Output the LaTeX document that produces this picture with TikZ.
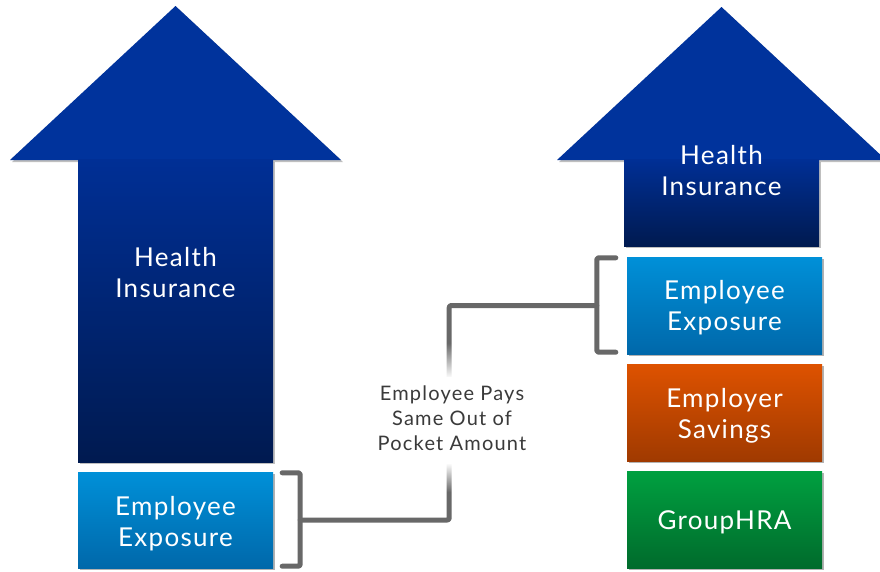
\documentclass[tikz,border=0pt]{standalone}
\usepackage{fontspec}
\setmainfont{Lato}
\newfontfamily\widefont[LetterSpace=5]{Lato}
\newfontfamily\notefont[LetterSpace=6]{Lato}
\usetikzlibrary{shadows,fadings,calc}
\definecolor{headblue}{HTML}{00339C}
\definecolor{shafttop}{HTML}{002F95}
\definecolor{shaftbot}{HTML}{001A50}
\definecolor{ltop}{HTML}{0090D8}
\definecolor{lbot}{HTML}{0068AA}
\definecolor{otop}{HTML}{DE5200}
\definecolor{obot}{HTML}{A03A00}
\definecolor{gtop}{HTML}{00A040}
\definecolor{gbot}{HTML}{006B2C}
\definecolor{brk}{HTML}{686868}
\definecolor{midtext}{HTML}{3A3A3A}
\tikzfading[name=fadein, top color=transparent!100, bottom color=transparent!0]
\tikzfading[name=fadeout, top color=transparent!0, bottom color=transparent!100]
\begin{document}
\begin{tikzpicture}[x=1pt,y=-1pt,
  box/.style={rectangle, minimum width=195pt, minimum height=96pt, inner sep=0pt,
    drop shadow={shadow xshift=2pt, shadow yshift=-2pt, opacity=0.3, fill=black}},
  lbox/.style={box, top color=ltop, bottom color=lbot},
  obox/.style={box, top color=otop, bottom color=obot},
  gbox/.style={box, top color=gtop, bottom color=gbot},
  label/.style={text=white, font=\widefont\fontsize{26}{31}\selectfont, align=center, inner sep=0pt},
  conn/.style={draw=brk, line width=5pt, line join=round, line cap=round, rounded corners=2pt},
  note/.style={text=midtext, font=\notefont\fontsize{20}{25}\selectfont, align=center, inner sep=0pt}
]
\useasboundingbox (0,0) rectangle (880,571);
\fill[white] (0,0) rectangle (880,571);

% left arrow
\fill[black, opacity=0.25] (12,162) -- (177.5,8) -- (343,162) -- cycle;
\fill[black, opacity=0.25] (80,162) rectangle (275,464);
\fill[headblue] (10,160) -- (175.5,6) -- (341,160) -- cycle;
\shade[top color=shafttop, bottom color=shaftbot] (78,159.5) rectangle (273,462);
\node[label] (lhi) at (175.5,273) {Health\\Insurance};

% right arrow
\fill[black, opacity=0.25] (559,162) -- (723.5,9) -- (888,162) -- cycle;
\fill[black, opacity=0.25] (626,162) rectangle (821,248);
\fill[headblue] (557,160) -- (721.5,7) -- (886,160) -- cycle;
\shade[top color=shafttop, bottom color=shaftbot] (624,159.5) rectangle (819,246);
\node[label] (rhi) at (721.5,171) {Health\\Insurance};

% boxes
\node[lbox] (lee) at (175.5,520) {};
\node[lbox, minimum height=97pt] (ree) at (724.5,305.5) {};
\node[obox, minimum height=97pt] (res) at (724.5,412.5) {};
\node[gbox, minimum height=97pt] (rhra) at (724.5,519.5) {};
\node[label] (leet) at ([yshift=-3.5pt]lee.center) {Employee\\Exposure};
\node[label] (reet) at ([yshift=-2pt]ree.center) {Employee\\Exposure};
\node[label] (rest) at ([yshift=-3pt]res.center) {Employer\\Savings};
\node[label] (rhrat) at ([yshift=-3pt]rhra.center) {GroupHRA};

% brackets and connector
\draw[conn] ([xshift=9pt,yshift=-1pt]lee.north east) -| ([xshift=27pt,yshift=2pt]lee.south east) -- ([xshift=9pt,yshift=2pt]lee.south east);
\draw[conn] ([xshift=27pt]lee.east) -- ++(149,0) |- ([xshift=-30pt]ree.west);
\draw[conn] ([xshift=-11pt,yshift=-1pt]ree.north west) -| ([xshift=-30pt,yshift=2pt]ree.south west) -- ([xshift=-11pt,yshift=2pt]ree.south west);

% fade of the connector behind the note
\fill[white, path fading=fadein] (436,343) rectangle (462,378);
\fill[white] (436,377) rectangle (462,464);
\fill[white, path fading=fadeout] (436,463) rectangle (462,492);
\node[note] (pays) at (452,418) {Employee Pays\\Same Out of\\Pocket Amount};
\end{tikzpicture}
\end{document}
